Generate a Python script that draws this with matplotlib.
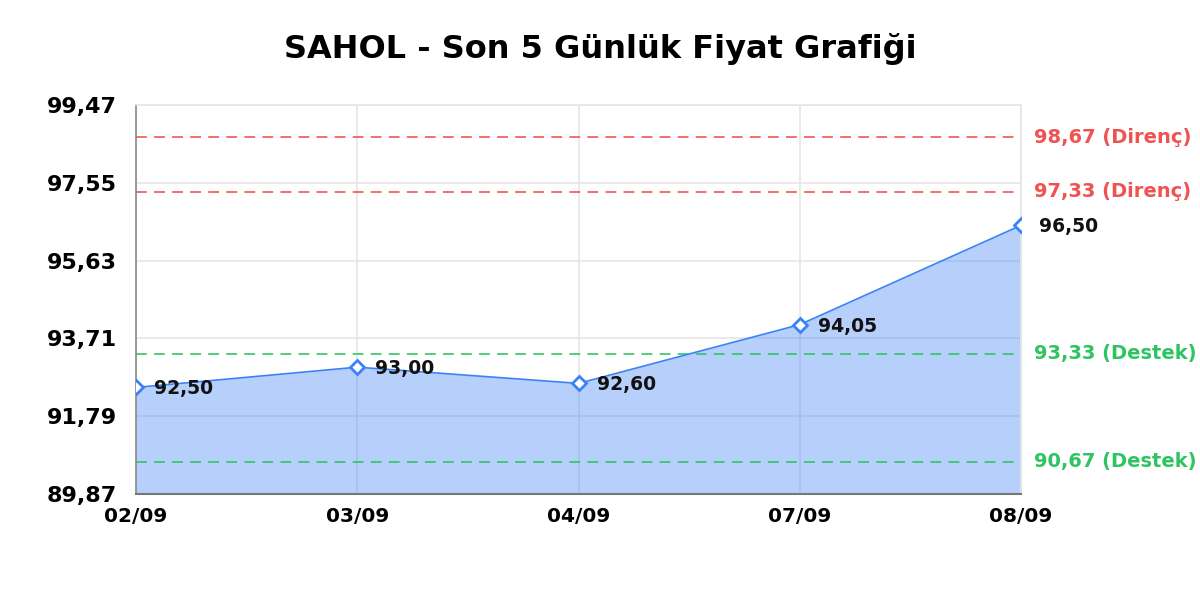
import matplotlib
matplotlib.use("Agg")
import matplotlib.pyplot as plt
import numpy as np

# Data
dates = ["02/09", "03/09", "04/09", "07/09", "08/09"]
prices = [92.50, 93.00, 92.60, 94.05, 96.50]
resistance = [98.67, 97.33]
support = [93.33, 90.67]
y_min, y_max = 89.87, 99.47
y_ticks = [89.87, 91.79, 93.71, 95.63, 97.55, 99.47]
title = "SAHOL - Son 5 Günlük Fiyat Grafiği"

def fmt(v):
    return f"{v:.2f}".replace(".", ",")

blue = "#3b82f6"
red = "#f05252"
green = "#2ec462"

fig = plt.figure(figsize=(12, 6), dpi=100)
ax = fig.add_axes([136/1200, 1-494/600, (1021-136)/1200, (494-105)/600])

x = np.arange(len(dates))
ax.fill_between(x, prices, y_min, color=blue, alpha=0.37, linewidth=0, zorder=2)
ax.plot(x, prices, color=blue, linewidth=1.2, zorder=3,
        marker="D", markersize=7.5, markerfacecolor="white",
        markeredgecolor=blue, markeredgewidth=2)

for xi, p in zip(x, prices):
    ax.annotate(fmt(p), (xi, p), xytext=(13, -1), textcoords="offset points",
                ha="left", va="center", fontsize=13.5, fontweight="bold",
                color="#111111", zorder=5)

for r in resistance:
    ax.axhline(r, color=red, linestyle=(0, (6, 4)), linewidth=1.3, alpha=0.9, zorder=2.5)
    ax.annotate(f"{fmt(r)} (Direnç)", (1, r), xycoords=("axes fraction", "data"),
                xytext=(9, 0), textcoords="offset points", ha="left", va="center",
                fontsize=14, fontweight="bold", color=red, annotation_clip=False)
for s in support:
    ax.axhline(s, color=green, linestyle=(0, (6, 4)), linewidth=1.3, alpha=0.9, zorder=2.5)
    ax.annotate(f"{fmt(s)} (Destek)", (1, s), xycoords=("axes fraction", "data"),
                xytext=(9, 0), textcoords="offset points", ha="left", va="center",
                fontsize=14, fontweight="bold", color=green, annotation_clip=False)

ax.set_xlim(0, len(dates) - 1)
ax.set_ylim(y_min, y_max)
ax.set_yticks(y_ticks)
ax.set_yticklabels([fmt(t) for t in y_ticks], fontsize=16, fontweight="bold")
ax.set_xticks(x)
ax.set_xticklabels(dates, fontsize=14.5, fontweight="bold")
ax.tick_params(axis="both", length=0)
ax.tick_params(axis="y", pad=14)
ax.tick_params(axis="x", pad=9)

ax.grid(True, color="#e6e6e6", linewidth=1.2, zorder=0)
ax.set_axisbelow(True)
for side in ["top", "right"]:
    ax.spines[side].set_color("#e6e6e6")
    ax.spines[side].set_linewidth(1.2)
ax.spines["left"].set_color("#888888")
ax.spines["bottom"].set_color("#777777")
ax.spines["left"].set_linewidth(1.2)
ax.spines["bottom"].set_linewidth(1.5)

fig.suptitle(title, x=0.5, y=1-49/600, va="center", fontsize=23, fontweight="bold")

fig.savefig("out.png", dpi=100)
